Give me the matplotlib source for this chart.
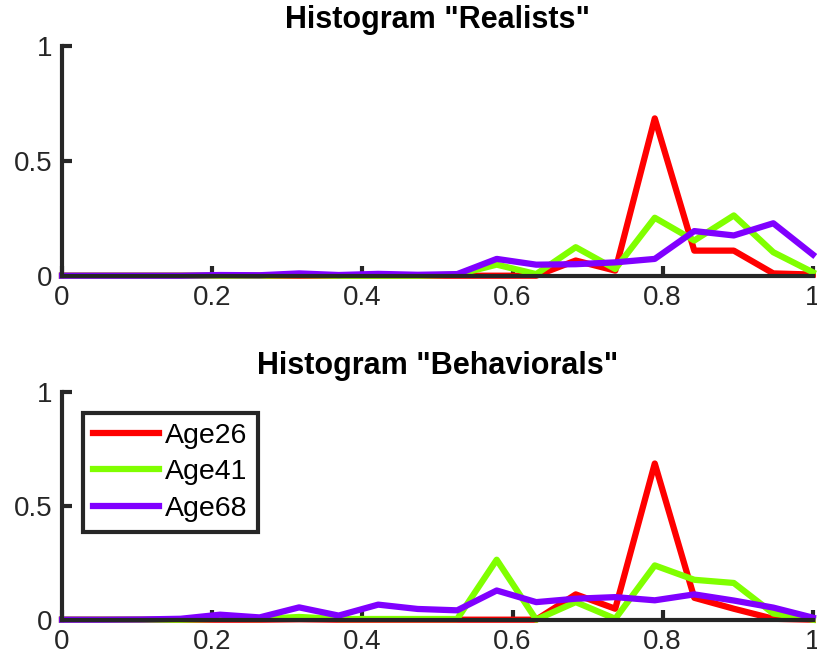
import matplotlib
matplotlib.use("Agg")
import matplotlib.pyplot as plt
import numpy as np

# histogram bins (20 points from 0 to 1)
bins = np.linspace(0, 1, 20)
labels = ['Age26', 'Age41', 'Age68']
colors = ['#ff0000', '#80ff00', '#8000ff']

# "Realists"
realists_age26 = [0, 0, 0, 0, 0, 0, 0, 0, 0, 0, 0, 0, 0, 0.066, 0.022, 0.684, 0.109, 0.109, 0.010, 0.005]
realists_age41 = [0, 0, 0, 0, 0, 0, 0.003, 0, 0, 0, 0.005, 0.048, 0.007, 0.124, 0.029, 0.252, 0.153, 0.262, 0.102, 0.015]
realists_age68 = [0, 0, 0, 0, 0.003, 0.002, 0.010, 0.003, 0.008, 0.004, 0.007, 0.073, 0.048, 0.050, 0.058, 0.073, 0.194, 0.175, 0.228, 0.092]

# "Behaviorals"
behav_age26 = [0, 0, 0, 0, 0, 0, 0.002, 0, 0, 0, 0, 0, 0, 0.111, 0.048, 0.685, 0.096, 0.048, 0.004, 0]
behav_age41 = [0, 0, 0, 0, 0.004, 0.003, 0.012, 0.003, 0.003, 0.003, 0.003, 0.263, 0, 0.077, 0.004, 0.238, 0.175, 0.161, 0.027, 0]
behav_age68 = [0, 0, 0.001, 0.004, 0.022, 0.010, 0.054, 0.018, 0.066, 0.047, 0.041, 0.128, 0.077, 0.092, 0.099, 0.085, 0.111, 0.084, 0.053, 0.009]

xticks = [0, 0.2, 0.4, 0.6, 0.8, 1]
xticklabels = ['0', '0.2', '0.4', '0.6', '0.8', '1']
yticks = [0, 0.5, 1]
yticklabels = ['0', '0.5', '1']

plt.rcParams['font.family'] = ['Liberation Sans', 'DejaVu Sans']
dark = '#262626'

fig = plt.figure(figsize=(8.17, 6.70), dpi=100)
ax1 = fig.add_axes([0.0759, 0.5885, 0.919, 0.3433])
ax2 = fig.add_axes([0.0759, 0.0751, 0.919, 0.3403])


def style_axes(ax, title):
    ax.set_xlim(0, 1)
    ax.set_ylim(0, 1)
    ax.set_xticks(xticks)
    ax.set_xticklabels(xticklabels)
    ax.set_yticks(yticks)
    ax.set_yticklabels(yticklabels)
    for side in ['top', 'right']:
        ax.spines[side].set_visible(False)
    for side in ['left', 'bottom']:
        ax.spines[side].set_linewidth(3)
        ax.spines[side].set_color(dark)
    ax.tick_params(direction='in', length=7, width=3, color=dark,
                   labelsize=20, labelcolor=dark, pad=7)
    ax.set_title(title, fontsize=22, fontweight='bold', pad=13)


for ax, series, title in [
    (ax1, [realists_age26, realists_age41, realists_age68], 'Histogram "Realists"'),
    (ax2, [behav_age26, behav_age41, behav_age68], 'Histogram "Behaviorals"'),
]:
    for vals, col, lab in zip(series, colors, labels):
        ax.plot(bins, vals, color=col, linewidth=4.5, label=lab, clip_on=False)
    style_axes(ax, title)

leg = ax2.legend(loc='upper left', bbox_to_anchor=(0.0276, 0.908), borderaxespad=0,
                 fontsize=20.5, handlelength=2.33, fancybox=False, framealpha=1,
                 edgecolor=dark, labelspacing=0.37, handletextpad=0.22,
                 borderpad=0.35)
leg.get_frame().set_linewidth(3)

fig.savefig('out.png', dpi=100)
